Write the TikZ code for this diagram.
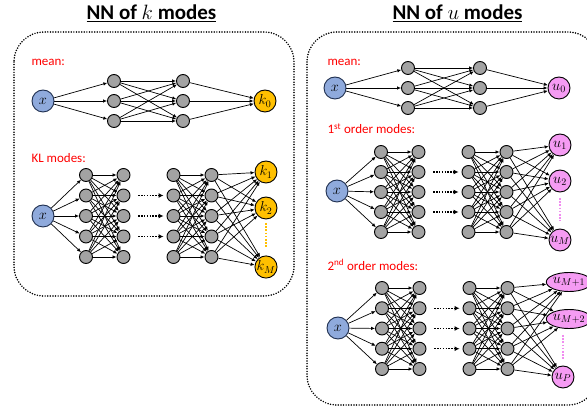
\documentclass[tikz,border=0pt]{standalone}
\usepackage{fontspec}
\setmainfont{Carlito}
\usetikzlibrary{arrows.meta,shapes.geometric}
\pgfdeclarelayer{background}
\pgfsetlayers{background,main}
\definecolor{inblue}{HTML}{8FAADC}
\definecolor{inedge}{HTML}{1F2F4F}
\definecolor{goldn}{HTML}{FFC000}
\definecolor{pinkn}{HTML}{F59BF3}
\definecolor{hidg}{HTML}{A3A3A3}
\definecolor{dotpink}{HTML}{F08CF0}
\tikzset{
  hidn/.style={circle, draw=black, fill=hidg, line width=0.9pt, minimum size=13pt, inner sep=0pt},
  inn/.style={circle, draw=inedge, fill=inblue, line width=0.9pt, minimum size=22pt, inner sep=0pt, font=\fontsize{14}{14}\selectfont},
  outk/.style={circle, draw=black, fill=goldn, line width=0.9pt, minimum size=22pt, inner sep=0pt, font=\fontsize{14}{14}\selectfont},
  outu/.style={circle, draw=black, fill=pinkn, line width=0.9pt, minimum size=22pt, inner sep=0pt, font=\fontsize{14}{14}\selectfont},
  outue/.style={ellipse, draw=black, fill=pinkn, line width=0.9pt, minimum width=38pt, minimum height=19pt, inner sep=0pt, font=\fontsize{14}{14}\selectfont},
  conn/.style={-{Latex[length=4pt,width=3.5pt]}, line width=0.7pt},
  dotarr/.style={line width=1.4pt, dash pattern=on 1.4pt off 1.4pt, -{Latex[length=5pt,width=5pt]}},
  framebox/.style={line width=1.7pt, line cap=round, dash pattern=on 0pt off 2.6pt, rounded corners=30pt},
  lab/.style={text=red, font=\fontsize{13}{13}\selectfont, anchor=west},
  titlelab/.style={font=\bfseries\fontsize{21}{21}\selectfont, anchor=base},
  vdots/.style={line width=2.2pt, dash pattern=on 1.6pt off 1.6pt}
}
\newcommand{\meannet}[7]{% prefix, xin, ymid, xA, xB, dy, output
  \node[inn] (#1x) at (#2,#3) {$x$};
  \foreach \i in {1,2,3} {
    \pgfmathsetmacro\yy{#3+(\i-2)*#6}
    \node[hidn] (#1a\i) at (#4,\yy) {};
    \node[hidn] (#1b\i) at (#5,\yy) {};
  }
  \begin{pgfonlayer}{background}
  \foreach \i in {1,2,3} {
    \draw[conn] (#1x) -- (#1a\i);
    \draw[conn] (#1b\i) -- (#7);
    \foreach \j in {1,2,3} { \draw[conn] (#1a\i) -- (#1b\j); }
  }
  \end{pgfonlayer}
}
\newcommand{\deepnet}[6]{% prefix, xin, yin, y0, dy, xA
  \node[inn] (#1x) at (#2,#3) {$x$};
  \foreach \i in {1,...,5} {
    \pgfmathsetmacro\yy{#4+(\i-1)*#5}
    \node[hidn] (#1a\i) at (#6,\yy) {};
    \node[hidn] (#1b\i) at (#6+37.5,\yy) {};
    \node[hidn] (#1c\i) at (#6+87.5,\yy) {};
    \node[hidn] (#1d\i) at (#6+125.5,\yy) {};
  }
  \begin{pgfonlayer}{background}
  \foreach \i in {1,...,5} {
    \draw[conn] (#1x) -- (#1a\i);
    \foreach \j in {1,...,5} {
      \draw[conn] (#1a\i) -- (#1b\j);
      \draw[conn] (#1c\i) -- (#1d\j);
    }
  }
  \end{pgfonlayer}
  \foreach \i in {2,3,4} { \draw[dotarr, shorten <=8pt, shorten >=3pt] (#1b\i) -- (#1c\i); }
}
\begin{document}
\begin{tikzpicture}[x=1pt,y=-1pt]
\useasboundingbox (0,0) rectangle (587,411);
\clip (0,0) rectangle (587,411);
% titles
\node[titlelab] (t1) at (151.5,20) {\underline{NN of $k$ modes}};
\node[titlelab] (t2) at (457.5,20) {\underline{NN of $u$ modes}};
% frames
\draw[framebox] (14,32) rectangle (294,296);
\draw[framebox] (307,32) rectangle (598,405);
% ---------- left: mean
\node[lab] (lml) at (28,62) {mean:};
\node[outk] (k0) at (265,101) {$k_0$};
\meannet{lm}{43}{101}{114}{183}{20}{k0}
% ---------- left: KL modes
\node[lab] (lkl) at (28,158) {KL modes:};
\node[outk] (k1) at (266,172) {$k_1$};
\node[outk] (k2) at (266,208) {$k_2$};
\node[outk] (kM) at (266,267) {$k_M$};
\deepnet{lk}{43}{216}{175}{20.5}{86}
\begin{pgfonlayer}{background}
\foreach \i in {1,...,5} { \foreach \o in {k1,k2,kM} { \draw[conn] (lkd\i) -- (\o); } }
\end{pgfonlayer}
\draw[vdots, goldn] (266,223) -- (266,247);
% ---------- right: mean
\node[lab] (rml) at (324,62) {mean:};
\node[outu] (u0) at (559,88) {$u_0$};
\meannet{rm}{335}{88}{408}{480}{20}{u0}
% ---------- right: 1st order
\node[lab] (r1l) at (324,129) {1\textsuperscript{st} order modes:};
\node[outu] (u1) at (560,145) {$u_1$};
\node[outu] (u2) at (560,181) {$u_2$};
\node[outu] (uM) at (560,240) {$u_M$};
\deepnet{ro}{337}{191}{152}{20}{381}
\begin{pgfonlayer}{background}
\foreach \i in {1,...,5} { \foreach \o in {u1,u2,uM} { \draw[conn] (rod\i) -- (\o); } }
\end{pgfonlayer}
\draw[vdots, dotpink] (560,198) -- (560,221);
% ---------- right: 2nd order
\node[lab] (r2l) at (324,265) {2\textsuperscript{nd} order modes:};
\node[outue] (uMa) at (569,282) {$u_{M+1}$};
\node[outue] (uMb) at (569,319) {$u_{M+2}$};
\node[outu] (uP) at (563,377) {$u_P$};
\deepnet{rt}{338}{328}{288}{20.25}{382}
\begin{pgfonlayer}{background}
\foreach \i in {1,...,5} { \foreach \o in {uMa,uMb,uP} { \draw[conn] (rtd\i) -- (\o); } }
\end{pgfonlayer}
\draw[vdots, dotpink] (563,335) -- (563,359);
\end{tikzpicture}
\end{document}
